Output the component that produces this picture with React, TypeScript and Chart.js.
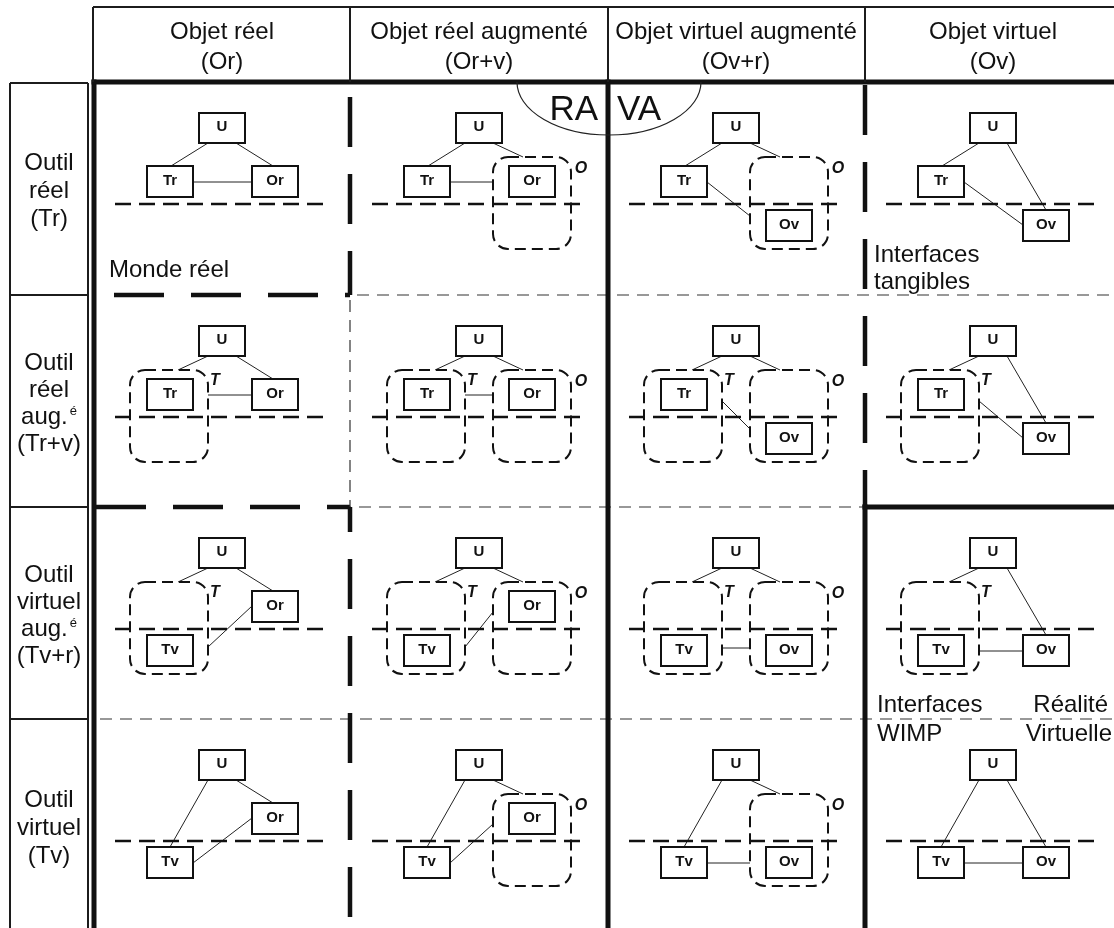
import React, { useEffect, useRef } from "react";
import { Chart, registerables } from "chart.js";

Chart.register(...registerables);

const CANVAS_W = 1114;
const CANVAS_H = 928;

// ---------------- data (categories / labels) ----------------
const COLUMN_TITLES = ["Objet réel", "Objet réel augmenté", "Objet virtuel augmenté", "Objet virtuel"];
const COLUMN_CODES = ["(Or)", "(Or+v)", "(Ov+r)", "(Ov)"];
const ROW_TITLES = [
  ["Outil", "réel"],
  ["Outil", "réel", "aug.|é"],
  ["Outil", "virtuel", "aug.|é"],
  ["Outil", "virtuel"],
];
const ROW_CODES = ["(Tr)", "(Tr+v)", "(Tv+r)", "(Tv)"];
const OBJECT_KINDS = ["Or", "Or+v", "Ov+r", "Ov"];
const TOOL_KINDS = ["Tr", "Tr+v", "Tv+r", "Tv"];
const USER_LABEL = "U";
const TOOL_MARK = "T";
const OBJECT_MARK = "O";
const ZONE_LABELS = ["RA", "VA", "Monde réel", "Interfaces", "tangibles", "Interfaces", "WIMP", "Réalité", "Virtuelle"];

// ---------------- layout (positions / styles) ----------------
const FONT = "'Liberation Sans', Arial, Helvetica, sans-serif";
const GRID = {
  headerTop: 7,
  headerLeft: 93,
  bodyTop: 82,
  colEdges: [94, 350, 608, 865, 1114],
  rowEdges: [82, 295, 507, 719, 928],
  rowH: 213,
  sideCol: [10, 88],
  sideTop: 83,
};
const DIAGRAM_CX = [222, 479, 736, 993];
const HEADER_CX = [222, 479, 736, 993];
const HEADER_BASELINES = [39, 69];
const SIDE_CX = 49;

// styles of the internal vertical boundaries (one per row) and horizontal ones (one per column)
const V_STYLE = [
  ["thickDash", "thinDash", "thickDash", "thickDash"],
  ["thick", "thick", "thick", "thick"],
  ["thickDash", "thickDash", "thick", "thick"],
];
const V_PHASE = [20, 0, 8];
const H_STYLE = [
  ["thickDash", "thinDash", "thinDash", "thinDash"],
  ["thickDash", "thinDash", "thinDash", "thick"],
  ["thinDash", "thinDash", "thinDash", "thinDash"],
];
const H_PHASE = [37, 19, 0];

const STYLES: Record<string, any> = {
  thin: { width: 2, color: "#1c1c1c" },
  thick: { width: 5, color: "#111", cap: "square" },
  thickDash: { width: 4.5, color: "#111", dash: [50, 27] },
  thinDash: { width: 1.2, color: "#333", dash: [12, 8] },
  sep: { width: 2.6, color: "#111", dash: [16, 8] },
  link: { width: 1, color: "#222" },
};

const NODE = {
  u: { x0: -23, x1: 23, y0: 31, y1: 61 },
  toolX: [-75, -29],
  objX: [30, 76],
  realY: [84, 115],
  virtY: [128, 159],
  toolRect: [-92, -14],
  objRect: [14, 92],
  rectY: [75, 167],
  radius: 15,
  sepY: 122,
  sepHalf: 107,
  toolMark: [-7, 86],
  objMark: [102, 87],
};

const ELLIPSE = { cx: 609, cy: 82, rx: 92, ry: 53 };

const ZONE_POS = [
  { x: 598, y: 120, align: "right", size: 35 },
  { x: 617, y: 120, align: "left", size: 35 },
  { x: 109, y: 277, align: "left", size: 24 },
  { x: 874, y: 262, align: "left", size: 24 },
  { x: 874, y: 289, align: "left", size: 24 },
  { x: 877, y: 712, align: "left", size: 24 },
  { x: 877, y: 741, align: "left", size: 24 },
  { x: 1108, y: 712, align: "right", size: 24 },
  { x: 1112, y: 741, align: "right", size: 24 },
];

// ---------------- helpers ----------------
type Pt = [number, number];

function segment(a: Pt, b: Pt, styleKey: string, phase?: number) {
  const s = STYLES[styleKey];
  let offset = 0;
  if (s.dash && phase !== undefined) {
    const period = s.dash[0] + s.dash[1];
    const start = a[0] === b[0] ? a[1] : a[0];
    offset = (((start - phase) % period) + period) % period;
  }
  return {
    data: [
      { x: a[0], y: a[1] },
      { x: b[0], y: b[1] },
    ],
    showLine: true,
    borderColor: s.color,
    borderWidth: s.width,
    borderDash: s.dash || [],
    borderDashOffset: offset,
    borderCapStyle: s.cap || "butt",
    pointRadius: 0,
    pointHoverRadius: 0,
    fill: false,
    tension: 0,
  };
}

function runs(styles: string[], edges: number[]) {
  const out: { style: string; from: number; to: number }[] = [];
  let start = 0;
  for (let i = 1; i <= styles.length; i++) {
    if (i === styles.length || styles[i] !== styles[start]) {
      out.push({ style: styles[start], from: edges[start], to: edges[i] });
      start = i;
    }
  }
  return out;
}

const isReal = (k: string) => k.startsWith("Tr") || k.startsWith("Or");
const isAug = (k: string) => k.includes("+");

// anchor heights of the tool-object link
function linkHeights(tool: string, obj: string): [number, number] {
  const tR = isReal(tool), tA = isAug(tool), oR = isReal(obj), oA = isAug(obj);
  if (tR && oR) return [100, 100];
  if (!tR && !oR) return tA && oA ? [141, 141] : [144, 144];
  if (tR) return [tA ? 106 : 100, oA ? 134 : 143];
  return [tA ? 140 : 144, oA ? 105 : 99];
}

function buildDatasets() {
  const ds: any[] = [];
  const G = GRID;
  // header
  ds.push(segment([G.headerLeft, G.headerTop], [CANVAS_W, G.headerTop], "thin"));
  [G.headerLeft, G.colEdges[1], G.colEdges[2], G.colEdges[3]].forEach((x) =>
    ds.push(segment([x, G.headerTop], [x, G.bodyTop], "thin"))
  );
  // side column
  G.sideCol.forEach((x) => ds.push(segment([x, G.sideTop], [x, CANVAS_H], "thin")));
  [G.sideTop, G.rowEdges[1], G.rowEdges[2], G.rowEdges[3]].forEach((y) =>
    ds.push(segment([G.sideCol[0], y], [G.sideCol[1], y], "thin"))
  );
  // internal boundaries
  V_STYLE.forEach((styles, i) => {
    const x = G.colEdges[i + 1];
    runs(styles, G.rowEdges).forEach((r) => ds.push(segment([x, r.from], [x, r.to], r.style, V_PHASE[i])));
  });
  H_STYLE.forEach((styles, i) => {
    const y = G.rowEdges[i + 1];
    runs(styles, G.colEdges).forEach((r) => ds.push(segment([r.from, y], [r.to, y], r.style, H_PHASE[i])));
  });
  // outer thick frame
  ds.push(segment([G.colEdges[0], G.bodyTop], [CANVAS_W, G.bodyTop], "thick"));
  ds.push(segment([G.colEdges[0], G.bodyTop], [G.colEdges[0], CANVAS_H], "thick"));

  // cell diagrams: separator and links
  TOOL_KINDS.forEach((tool, r) => {
    OBJECT_KINDS.forEach((obj, c) => {
      const cx = DIAGRAM_CX[c];
      const top = G.rowEdges[r];
      const P = (dx: number, dy: number): Pt => [cx + dx, top + dy];
      ds.push(segment(P(-NODE.sepHalf, NODE.sepY), P(NODE.sepHalf, NODE.sepY), "sep", cx - NODE.sepHalf));
      const tR = isReal(tool), tA = isAug(tool), oR = isReal(obj), oA = isAug(obj);
      // U - tool
      const toolTop: Pt = tA ? P(-44, NODE.rectY[0]) : tR ? P(-51, NODE.realY[0]) : P(-52, NODE.virtY[0]);
      ds.push(segment(P(-14, NODE.u.y1), toolTop, "link"));
      // U - object
      const objTop: Pt = oA ? P(44, NODE.rectY[0]) : oR ? P(51, NODE.realY[0]) : P(53, NODE.virtY[0]);
      ds.push(segment(P(14, NODE.u.y1), objTop, "link"));
      // tool - object
      const [ty, oy] = linkHeights(tool, obj);
      ds.push(segment(P(tA ? NODE.toolRect[1] : NODE.toolX[1], ty), P(oA ? NODE.objRect[0] : NODE.objX[0], oy), "link"));
    });
  });
  return ds;
}

function roundRectPath(ctx: CanvasRenderingContext2D, l: number, t: number, r: number, b: number, rad: number) {
  ctx.beginPath();
  ctx.moveTo(l + rad, t);
  ctx.lineTo(r - rad, t);
  ctx.arcTo(r, t, r, t + rad, rad);
  ctx.lineTo(r, b - rad);
  ctx.arcTo(r, b, r - rad, b, rad);
  ctx.lineTo(l + rad, b);
  ctx.arcTo(l, b, l, b - rad, rad);
  ctx.lineTo(l, t + rad);
  ctx.arcTo(l, t, l + rad, t, rad);
  ctx.closePath();
}

const diagramPlugin = {
  id: "diagramShapes",
  afterDatasetsDraw(chart: any) {
    const ctx: CanvasRenderingContext2D = chart.ctx;
    const xs = chart.scales.x;
    const ys = chart.scales.y;
    const X = (v: number) => xs.getPixelForValue(v);
    const Y = (v: number) => ys.getPixelForValue(v);
    ctx.save();

    // RA / VA ellipse (lower half)
    const ecx = X(ELLIPSE.cx), ecy = Y(ELLIPSE.cy);
    ctx.beginPath();
    ctx.ellipse(ecx, ecy, Math.abs(X(ELLIPSE.cx + ELLIPSE.rx) - ecx), Math.abs(Y(ELLIPSE.cy + ELLIPSE.ry) - ecy), 0, 0, Math.PI);
    ctx.setLineDash([]);
    ctx.lineWidth = 1.2;
    ctx.strokeStyle = "#222";
    ctx.stroke();

    const box = (x0: number, y0: number, x1: number, y1: number, label: string) => {
      const l = X(x0), t = Y(y0), r = X(x1), b = Y(y1);
      ctx.setLineDash([]);
      ctx.fillStyle = "#fff";
      ctx.fillRect(l, t, r - l, b - t);
      ctx.lineWidth = 2;
      ctx.strokeStyle = "#111";
      ctx.strokeRect(l, t, r - l, b - t);
      ctx.fillStyle = "#111";
      ctx.font = `bold 15px ${FONT}`;
      ctx.textAlign = "center";
      ctx.textBaseline = "alphabetic";
      ctx.fillText(label, (l + r) / 2, (t + b) / 2 + 3);
    };
    const dashedRect = (x0: number, y0: number, x1: number, y1: number) => {
      roundRectPath(ctx, X(x0), Y(y0), X(x1), Y(y1), NODE.radius);
      ctx.setLineDash([11, 6]);
      ctx.lineDashOffset = 0;
      ctx.lineWidth = 2;
      ctx.strokeStyle = "#111";
      ctx.stroke();
      ctx.setLineDash([]);
    };
    const mark = (x: number, y: number, s: string) => {
      ctx.fillStyle = "#111";
      ctx.font = `italic bold 16px ${FONT}`;
      ctx.textAlign = "center";
      ctx.textBaseline = "middle";
      ctx.fillText(s, X(x), Y(y));
    };

    TOOL_KINDS.forEach((tool, r) => {
      OBJECT_KINDS.forEach((obj, c) => {
        const cx = DIAGRAM_CX[c];
        const top = GRID.rowEdges[r];
        const tR = isReal(tool), tA = isAug(tool), oR = isReal(obj), oA = isAug(obj);
        if (tA) {
          dashedRect(cx + NODE.toolRect[0], top + NODE.rectY[0], cx + NODE.toolRect[1], top + NODE.rectY[1]);
          mark(cx + NODE.toolMark[0], top + NODE.toolMark[1], TOOL_MARK);
        }
        if (oA) {
          dashedRect(cx + NODE.objRect[0], top + NODE.rectY[0], cx + NODE.objRect[1], top + NODE.rectY[1]);
          mark(cx + NODE.objMark[0], top + NODE.objMark[1], OBJECT_MARK);
        }
        box(cx + NODE.u.x0, top + NODE.u.y0, cx + NODE.u.x1, top + NODE.u.y1, USER_LABEL);
        const ty = tR ? NODE.realY : NODE.virtY;
        box(cx + NODE.toolX[0], top + ty[0], cx + NODE.toolX[1], top + ty[1], tool.slice(0, 2));
        const oy = oR ? NODE.realY : NODE.virtY;
        box(cx + NODE.objX[0], top + oy[0], cx + NODE.objX[1], top + oy[1], obj.slice(0, 2));
      });
    });

    // texts
    ctx.fillStyle = "#111";
    ctx.textBaseline = "alphabetic";
    ctx.font = `24px ${FONT}`;
    ctx.textAlign = "center";
    COLUMN_TITLES.forEach((t, i) => {
      ctx.fillText(t, X(HEADER_CX[i]), Y(HEADER_BASELINES[0]));
      ctx.fillText(COLUMN_CODES[i], X(HEADER_CX[i]), Y(HEADER_BASELINES[1]));
    });

    ROW_TITLES.forEach((lines, r) => {
      const all = [...lines, ROW_CODES[r]];
      const n = all.length;
      const step = n > 3 ? 27 : 28;
      const mid = GRID.rowEdges[r] + GRID.rowH / 2 + 9;
      all.forEach((line, i) => {
        const by = mid + (i - (n - 1) / 2) * step;
        const parts = line.split("|");
        ctx.font = `24px ${FONT}`;
        if (parts.length === 1) {
          ctx.textAlign = "center";
          ctx.fillText(line, X(SIDE_CX), Y(by));
        } else {
          const w1 = ctx.measureText(parts[0]).width;
          ctx.font = `13px ${FONT}`;
          const w2 = ctx.measureText(parts[1]).width;
          const left = X(SIDE_CX) - (w1 + w2 + 2) / 2;
          ctx.textAlign = "left";
          ctx.font = `24px ${FONT}`;
          ctx.fillText(parts[0], left, Y(by));
          ctx.font = `13px ${FONT}`;
          ctx.fillText(parts[1], left + w1 + 2, Y(by - 9));
        }
      });
    });

    ZONE_LABELS.forEach((t, i) => {
      const p = ZONE_POS[i];
      ctx.font = `${p.size}px ${FONT}`;
      ctx.textAlign = p.align as CanvasTextAlign;
      ctx.fillText(t, X(p.x), Y(p.y));
    });

    ctx.restore();
  },
};

export default function App() {
  const ref = useRef<HTMLCanvasElement | null>(null);
  useEffect(() => {
    document.body.style.margin = "0";
    const canvas = ref.current;
    if (!canvas) return;
    const chart = new Chart(canvas, {
      type: "scatter",
      data: { datasets: buildDatasets() },
      options: {
        animation: false,
        responsive: false,
        devicePixelRatio: 1,
        events: [],
        layout: { padding: 0 },
        plugins: {
          legend: { display: false },
          tooltip: { enabled: false },
          title: { display: false },
        },
        scales: {
          x: { type: "linear", min: 0, max: CANVAS_W, display: false },
          y: { type: "linear", min: 0, max: CANVAS_H, reverse: true, display: false },
        },
      },
      plugins: [diagramPlugin],
    } as any);
    return () => chart.destroy();
  }, []);
  return (
    <div style={{ position: "fixed", left: 0, top: 0, width: CANVAS_W, height: CANVAS_H, background: "#fff" }}>
      <canvas ref={ref} width={CANVAS_W} height={CANVAS_H} style={{ display: "block", width: CANVAS_W, height: CANVAS_H }} />
    </div>
  );
}
